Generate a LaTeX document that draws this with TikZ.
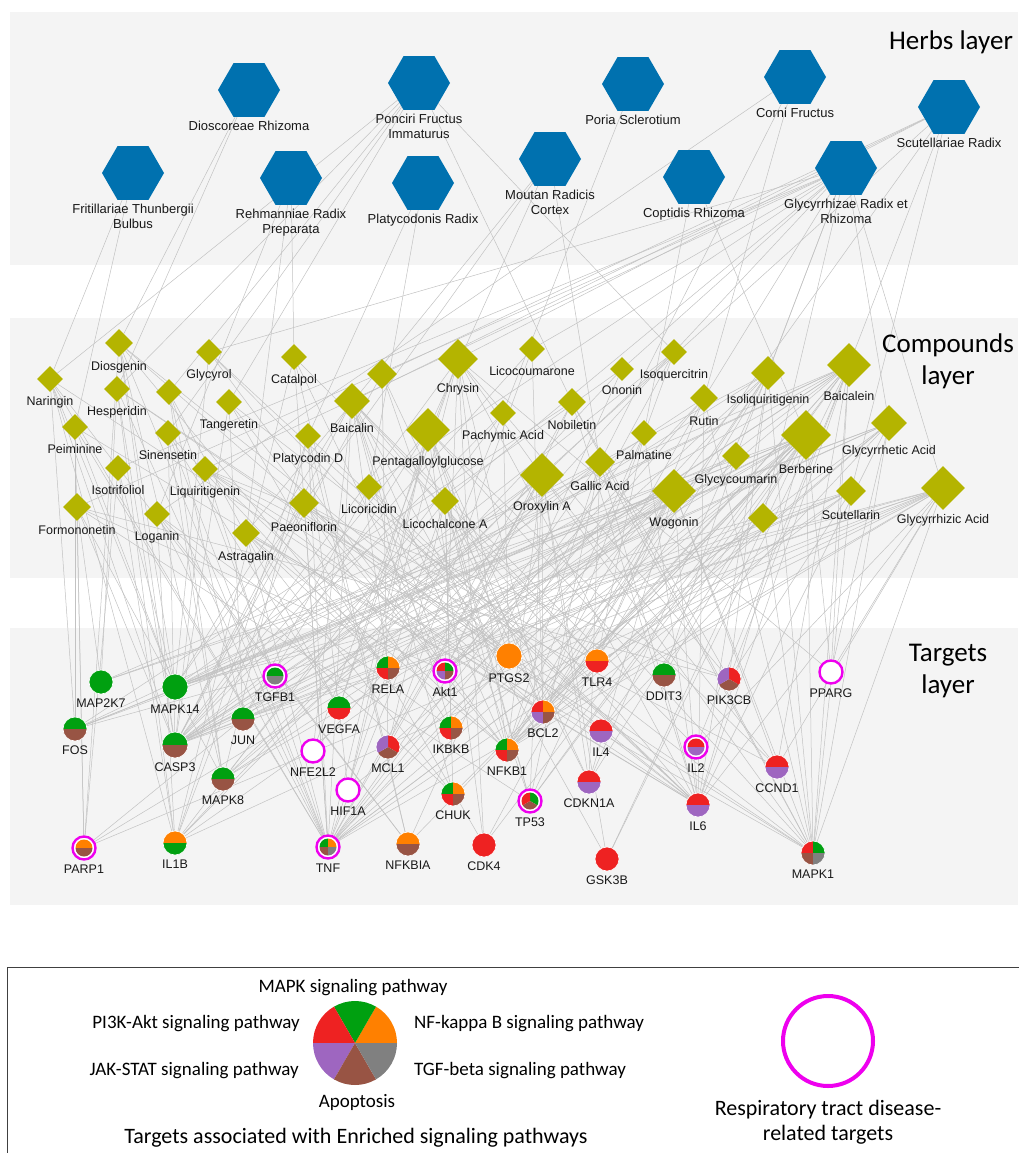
\documentclass[tikz,border=0pt]{standalone}
\usepackage{fontspec}
\setmainfont{Liberation Sans}
\newfontfamily\carl{Carlito}
\usetikzlibrary{shapes.geometric}
\definecolor{panel}{HTML}{F4F4F4}
\definecolor{herbblue}{HTML}{0071AF}
\definecolor{cpdolive}{HTML}{B4B400}
\definecolor{pgreen}{HTML}{00A010}
\definecolor{porange}{HTML}{FF8000}
\definecolor{pred}{HTML}{EE2222}
\definecolor{ppurple}{HTML}{9E66C0}
\definecolor{pbrown}{HTML}{985444}
\definecolor{pgray}{HTML}{808080}
\definecolor{ringmag}{HTML}{EE00EE}
\definecolor{edgegray}{HTML}{C2C2C2}
\newcommand\lblfont{\fontsize{12.5}{15}\selectfont}
\newcommand\herbfont{\fontsize{13}{15}\selectfont}
\newcommand\layerfont{\carl\fontsize{27}{32}\selectfont}
\pgfdeclarelayer{bg}
\pgfdeclarelayer{edges}
\pgfsetlayers{bg,edges,main}
\tikzset{
	pie r/.store in=\pieR, pie r=12,
	herb/.style={regular polygon, regular polygon sides=6, minimum size=62pt, inner sep=0pt, fill=herbblue, label distance=6pt},
	cpd/.style={diamond, fill=cpdolive, inner sep=0pt, minimum size=#1pt},
	tgt/.style={circle, minimum size=24pt, inner sep=0pt, fill=white, draw=white, line width=0.6pt},
	ringed/.style={draw=ringmag, line width=2.4pt, minimum size=23pt, pie r=8.5},
	full/.style={fill=#1},
	half/.style 2 args={path picture={
		\begin{scope}[shift={(path picture bounding box.center)}]
			\clip (0pt,0pt) circle (\pieR pt);
			\fill[#1] (-20pt,0pt) rectangle (20pt,20pt);
			\fill[#2] (-20pt,0pt) rectangle (20pt,-20pt);
		\end{scope}}},
	quad/.style n args={4}{path picture={
		\begin{scope}[shift={(path picture bounding box.center)}]
			\clip (0pt,0pt) circle (\pieR pt);
			\fill[#1] (0pt,0pt) rectangle (-20pt,20pt);
			\fill[#2] (0pt,0pt) rectangle (20pt,20pt);
			\fill[#3] (0pt,0pt) rectangle (-20pt,-20pt);
			\fill[#4] (0pt,0pt) rectangle (20pt,-20pt);
		\end{scope}}},
	tri/.style n args={3}{path picture={
		\begin{scope}[shift={(path picture bounding box.center)}]
			\clip (0pt,0pt) circle (\pieR pt);
			\fill[#1] (0pt,0pt) -- (90:30pt) -- (30:30pt) -- (-30:30pt) -- cycle;
			\fill[#2] (0pt,0pt) -- (-30:30pt) -- (-90:30pt) -- (-150:30pt) -- cycle;
			\fill[#3] (0pt,0pt) -- (-150:30pt) -- (180:30pt) -- (150:30pt) -- (90:30pt) -- cycle;
		\end{scope}}},
	link/.style={draw=edgegray, line width=0.5pt},
	lgtext/.style={font=\carl\fontsize{19}{24}\selectfont, inner sep=0pt},
	lgbig/.style={font=\carl\fontsize{22}{25}\selectfont, inner sep=0pt},
	every label/.style={font=\lblfont, inner sep=0pt, text=black!90},
}

\begin{document}
\begin{tikzpicture}[x=1pt, y=-1pt, label distance=4pt]
	\useasboundingbox (0,0) rectangle (1018,1153);
	\begin{pgfonlayer}{bg}
		\fill[panel] (10,12) rectangle (1018,265);
		\fill[panel] (10,318) rectangle (1018,578);
		\fill[panel] (10,628) rectangle (1018,905);
	\end{pgfonlayer}

	\node[font=\layerfont] (tHerbs) at (951,42) {Herbs layer};
	\node[font=\layerfont, align=center] (tCpds) at (948,361) {Compounds\\layer};
	\node[font=\layerfont, align=center] (tTgts) at (948,671) {Targets\\layer};

	\node[herb, label={[font=\herbfont]below:Dioscoreae Rhizoma}] (hDio) at (249,90) {};
	\node[herb, label={[font=\herbfont, align=center]below:{Ponciri Fructus\\Immaturus}}] (hPon) at (419,83) {};
	\node[herb, label={[font=\herbfont]below:Poria Sclerotium}] (hPor) at (633,84) {};
	\node[herb, label={[font=\herbfont]below:Corni Fructus}] (hCor) at (795,77) {};
	\node[herb, label={[font=\herbfont]below:Scutellariae Radix}] (hScu) at (949,107) {};
	\node[herb, label={[font=\herbfont, align=center]below:{Fritillariae Thunbergii\\Bulbus}}] (hFri) at (133,173) {};
	\node[herb, label={[font=\herbfont, align=center]below:{Rehmanniae Radix\\Preparata}}] (hReh) at (291,178) {};
	\node[herb, label={[font=\herbfont]below:Platycodonis Radix}] (hPla) at (423,183) {};
	\node[herb, label={[font=\herbfont, align=center]below:{Moutan Radicis\\Cortex}}] (hMou) at (550,159) {};
	\node[herb, label={[font=\herbfont]below:Coptidis Rhizoma}] (hCop) at (694,177) {};
	\node[herb, label={[font=\herbfont, align=center]below:{Glycyrrhizae Radix et\\Rhizoma}}] (hGly) at (846,168) {};

	\node[cpd=28, label=below:Diosgenin] (dios) at (119,343) {};
	\node[cpd=26, label=below:Naringin] (nar) at (50,379) {};
	\node[cpd=26, label=below:Hesperidin] (hes) at (117,389) {};
	\node[cpd=26] (u1) at (169,392) {};
	\node[cpd=26, label=below:Glycyrol] (glyl) at (209,352) {};
	\node[cpd=26, label=below:Tangeretin] (tang) at (229,402) {};
	\node[cpd=26, label=below:Catalpol] (cat) at (294,357) {};
	\node[cpd=26, label=below:Peiminine] (pei) at (75,427) {};
	\node[cpd=26, label=below:Sinensetin] (sin) at (168,433) {};
	\node[cpd=26, label=below:Isotrifoliol] (isot) at (118,468) {};
	\node[cpd=26, label=below:Liquiritigenin] (liq) at (205,469) {};
	\node[cpd=28, label=below:Formononetin] (form) at (77,507) {};
	\node[cpd=26, label=below:Loganin] (logn) at (157,514) {};
	\node[cpd=28, label=below:Astragalin] (astr) at (246,533) {};
	\node[cpd=30, label=below:Paeoniflorin] (paeo) at (304,503) {};
	\node[cpd=26, label=below:Platycodin D] (platd) at (308,436) {};
	\node[cpd=36, label=below:Baicalin] (baln) at (352,401) {};
	\node[cpd=30] (u2) at (382,374) {};
	\node[cpd=40, label=below:Chrysin] (chry) at (458,359) {};
	\node[cpd=44, label=below:Pentagalloylglucose] (pgg) at (428,430) {};
	\node[cpd=26, label=below:Licoricidin] (licd) at (369,487) {};
	\node[cpd=28, label=below:Licochalcone A] (lica) at (445,501) {};
	\node[cpd=26, label=below:Pachymic Acid] (pach) at (503,413) {};
	\node[cpd=26, label=below:Licocoumarone] (licm) at (532,349) {};
	\node[cpd=24, label=below:Ononin] (onon) at (622,369) {};
	\node[cpd=26, label=below:Isoquercitrin] (isoq) at (674,352) {};
	\node[cpd=28, label=below:Nobiletin] (nob) at (572,402) {};
	\node[cpd=26, label=below:Palmatine] (palm) at (644,433) {};
	\node[cpd=30, label=below:Gallic Acid] (gall) at (600,462) {};
	\node[cpd=44, label=below:Oroxylin A] (orox) at (542,475) {};
	\node[cpd=28, label=below:Rutin] (rut) at (704,398) {};
	\node[cpd=34, label=below:Isoliquiritigenin] (isoliq) at (768,373) {};
	\node[cpd=44, label=below:Baicalein] (bale) at (849,365) {};
	\node[cpd=50, label=below:Berberine] (berb) at (806,435) {};
	\node[cpd=28, label=below:Glycycoumarin] (gcou) at (736,456) {};
	\node[cpd=44, label=below:Wogonin] (wog) at (674,491) {};
	\node[cpd=30] (u3) at (763,518) {};
	\node[cpd=36, label=below:Glycyrrhetic Acid] (gret) at (889,423) {};
	\node[cpd=30, label=below:Scutellarin] (scut) at (851,491) {};
	\node[cpd=44, label=below:Glycyrrhizic Acid] (gzic) at (943,488) {};

	\node[tgt, full=pgreen, label=below:MAP2K7] (MAP2K7) at (101,682) {};
	\node[tgt, full=pgreen, minimum size=26pt, label=below:MAPK14] (MAPK14) at (175,687) {};
	\node[tgt, half={pgreen}{pbrown}, label=below:FOS] (FOS) at (75,729) {};
	\node[tgt, half={pgreen}{pbrown}, minimum size=26pt, pie r=13, label=below:CASP3] (CASP3) at (175,745) {};
	\node[tgt, ringed, half={pgreen}{pgray}, label=below:TGFB1] (TGFB1) at (275,676) {};
	\node[tgt, half={pgreen}{pbrown}, label=below:JUN] (JUN) at (243,719) {};
	\node[tgt, half={pgreen}{pred}, label=below:VEGFA] (VEGFA) at (339,708) {};
	\node[tgt, ringed, label=below:NFE2L2] (NFE2L2) at (313,751) {};
	\node[tgt, ringed, label=below:HIF1A] (HIF1A) at (348,790) {};
	\node[tgt, half={pgreen}{pbrown}, label=below:MAPK8] (MAPK8) at (223,779) {};
	\node[tgt, ringed, half={porange}{pbrown}, label=below:PARP1] (PARP1) at (84,848) {};
	\node[tgt, half={porange}{pgreen}, label=below:IL1B] (IL1B) at (175,843) {};
	\node[tgt, ringed, quad={pgreen}{porange}{pbrown}{pgray}, label=below:TNF] (TNF) at (328,847) {};
	\node[tgt, quad={pgreen}{porange}{pred}{pbrown}, label=below:RELA] (RELA) at (388,668) {};
	\node[tgt, ringed, quad={pred}{pgreen}{ppurple}{pbrown}, label=below:Akt1] (Akt1) at (445,671) {};
	\node[tgt, full=porange, minimum size=26pt, label=below:PTGS2] (PTGS2) at (509,656) {};
	\node[tgt, half={porange}{pred}, label=below:TLR4] (TLR4) at (597,661) {};
	\node[tgt, half={pgreen}{pbrown}, label=below:DDIT3] (DDIT3) at (664,675) {};
	\node[tgt, quad={pred}{porange}{ppurple}{pbrown}, label=below:BCL2] (BCL2) at (543,712) {};
	\node[tgt, quad={pgreen}{porange}{pred}{pbrown}, label=below:IKBKB] (IKBKB) at (451,728) {};
	\node[tgt, tri={pred}{pbrown}{ppurple}, label=below:MCL1] (MCL1) at (388,747) {};
	\node[tgt, quad={pgreen}{porange}{pred}{pbrown}, label=below:NFKB1] (NFKB1) at (507,750) {};
	\node[tgt, half={pred}{ppurple}, label=below:IL4] (IL4) at (601,731) {};
	\node[tgt, quad={pgreen}{porange}{pred}{pbrown}, label=below:CHUK] (CHUK) at (453,794) {};
	\node[tgt, ringed, tri={pgreen}{pbrown}{pred}, label=below:TP53] (TP53) at (530,801) {};
	\node[tgt, half={pred}{ppurple}, label=below:CDKN1A] (CDKN1A) at (589,782) {};
	\node[tgt, half={porange}{pbrown}, label=below:NFKBIA] (NFKBIA) at (408,844) {};
	\node[tgt, full=pred, label=below:CDK4] (CDK4) at (484,845) {};
	\node[tgt, full=pred, label=below:GSK3B] (GSK3B) at (607,859) {};
	\node[tgt, tri={pred}{pbrown}{ppurple}, label=below:PIK3CB] (PIK3CB) at (729,679) {};
	\node[tgt, ringed, label=below:PPARG] (PPARG) at (831,672) {};
	\node[tgt, ringed, half={pred}{ppurple}, label=below:IL2] (IL2) at (696,747) {};
	\node[tgt, half={pred}{ppurple}, label=below:CCND1] (CCND1) at (777,767) {};
	\node[tgt, half={pred}{ppurple}, label=below:IL6] (IL6) at (698,805) {};
	\node[tgt, quad={pred}{pgreen}{pbrown}{pgray}, label=below:MAPK1] (MAPK1) at (813,853) {};

	\begin{pgfonlayer}{edges}
		\foreach \h/\cl in {hFri/{pei,nar}, hDio/{dios,hes}, hPon/{nar,hes,u1,sin,tang,nob,isoq},
			hReh/{cat,astr,logn}, hPla/{platd,licd}, hMou/{paeo,pgg,gall,astr}, hPor/{pach},
			hCor/{logn,gall,rut}, hCop/{berb,palm},
			hGly/{form,isot,glyl,liq,licd,lica,licm,onon,isoq,isoliq,gcou,gret,gzic,u3,rut},
			hScu/{baln,bale,wog,orox,chry,scut,u2}}
			\foreach \c in \cl
				\draw[link] (\h) -- (\c);
		\foreach \c/\tl in {dios/{CASP3,MAPK14,TNF,RELA,BCL2,IL6,MAPK8,PARP1},
			nar/{MAPK14,FOS,CASP3,TNF,IL6,NFKBIA,IL1B},
			hes/{MAP2K7,CASP3,TNF,IL1B,PTGS2,MAPK1},
			u1/{JUN,MAPK8,TGFB1,VEGFA},
			glyl/{MAPK14,NFKB1,PTGS2,IL6},
			tang/{Akt1,MAPK1,CDK4,JUN,CASP3},
			cat/{TNF,IL1B,NFKBIA,Akt1,TLR4},
			pei/{FOS,MAPK14,IL6,TNF,PARP1},
			sin/{CASP3,MAPK8,TNF,RELA,VEGFA},
			isot/{MAPK14,IL1B,PARP1},
			liq/{CASP3,BCL2,NFKB1,MAPK1,TNF,PIK3CB,CCND1},
			form/{MAP2K7,CASP3,PARP1,MAPK8,Akt1,TP53,PIK3CB},
			logn/{TNF,IL1B,NFKBIA,IKBKB,CHUK},
			astr/{TNF,NFKB1,RELA,CHUK,MAPK1,IL6},
			paeo/{TNF,IL1B,NFKB1,IKBKB,TLR4,CASP3,MAPK14,PTGS2,IL6},
			platd/{TNF,IL1B,NFKBIA,MAPK8,IL6,HIF1A},
			baln/{TNF,RELA,NFKB1,IKBKB,CHUK,TLR4,IL6,IL2,CASP3,MAPK14,NFE2L2,GSK3B,Akt1},
			u2/{BCL2,CASP3,MCL1,TP53},
			chry/{Akt1,MAPK1,CASP3,BCL2,PIK3CB,CDK4,NFKB1,HIF1A,VEGFA,PPARG,NFE2L2,IL6},
			pgg/{TP53,CDK4,CCND1,CDKN1A,BCL2,CASP3,MAPK1,PTGS2,HIF1A,VEGFA,TNF,JUN},
			licd/{PTGS2,IL6,JUN},
			lica/{NFKB1,TNF,CHUK,IKBKB,MAPK8,CDKN1A,TP53,MCL1},
			pach/{CASP3,TNF,IL1B,PTGS2},
			licm/{CASP3,BCL2,MCL1},
			onon/{MAPK14,IL1B,NFKBIA},
			isoq/{CASP3,BCL2,MAPK8,PTGS2,NFE2L2},
			nob/{MAPK1,Akt1,IL6,TNF,PIK3CB,FOS},
			palm/{NFKB1,TNF,TLR4,IL6},
			gall/{TNF,IL6,NFKB1,CASP3,TP53,MAPK8,CDKN1A,MAPK1},
			orox/{TP53,BCL2,CDKN1A,CCND1,NFKB1,CASP3,MCL1,IL1B,TNF,Akt1,PARP1,GSK3B},
			rut/{MAPK1,Akt1,TNF,IL6,NFKB1,CASP3,TLR4},
			isoliq/{NFKB1,Akt1,MAPK1,TNF,TLR4,IL6,PIK3CB,CDKN1A,BCL2,CASP3,MAPK14},
			bale/{TP53,CDK4,BCL2,MAPK1,Akt1,PIK3CB,CASP3,NFKB1,RELA,IL6,PTGS2,GSK3B,IL2,CCND1,MAPK8,PPARG,FOS,MAPK14,MAP2K7},
			berb/{TNF,IL6,NFKB1,RELA,IKBKB,CHUK,NFKBIA,CASP3,MAPK14,MAPK8,JUN,BCL2,DDIT3,TP53,PPARG,HIF1A,MAPK1,GSK3B,IL4,CDKN1A,FOS,MAP2K7},
			gcou/{CASP3,MAPK14,DDIT3},
			wog/{TNF,IL6,NFKB1,MAPK1,MAPK14,CASP3,TP53,CDKN1A,CCND1,BCL2,MCL1,Akt1,CDK4,PARP1,MAP2K7,IL1B,FOS},
			u3/{CASP3,NFKB1,MAPK1,TNF},
			gret/{TNF,IL6,MAPK1,CASP3,PPARG,NFKB1,BCL2,IL4,MAPK14,JUN,FOS},
			scut/{Akt1,MAPK1,NFKB1,TNF,CASP3,VEGFA,PIK3CB,MAPK14},
			gzic/{TNF,IL6,IL1B,NFKB1,MAPK1,PTGS2,PARP1,CASP3,IL2,CCND1,MAPK14,TLR4,PPARG,FOS,JUN}}
			\foreach \t in \tl
				\draw[link] (\c) -- (\t);
	\end{pgfonlayer}

	\draw[black!75, line width=1pt] (7,967) rectangle (1030,1180);
	\begin{scope}[shift={(355,1043)}, yscale=-1]
		\foreach \col [count=\i from 0] in {porange,pgreen,pred,ppurple,pbrown,pgray}
			\fill[\col] (0,0) -- ({\i*60}:42) arc ({\i*60}:{\i*60+60}:42) -- cycle;
	\end{scope}
	\node[lgtext] (lgMapk) at (353,988) {MAPK signaling pathway};
	\node[lgtext, anchor=east] (lgPi3k) at (300,1024) {PI3K-Akt signaling pathway};
	\node[lgtext, anchor=west] (lgNfkb) at (414,1024) {NF-kappa B signaling pathway};
	\node[lgtext, anchor=east] (lgJak) at (299,1071) {JAK-STAT signaling pathway};
	\node[lgtext, anchor=west] (lgTgf) at (414,1071) {TGF-beta signaling pathway};
	\node[lgtext] (lgApo) at (357,1102) {Apoptosis};
	\node[lgbig] (lgTitle) at (356,1138) {Targets associated with Enriched signaling pathways};
	\node[circle, draw=ringmag, line width=4pt, minimum size=90pt] (lgRing) at (828,1041) {};
	\node[lgbig, align=center] (lgResp) at (828,1122) {Respiratory tract disease-\\related targets};
\end{tikzpicture}
\end{document}
